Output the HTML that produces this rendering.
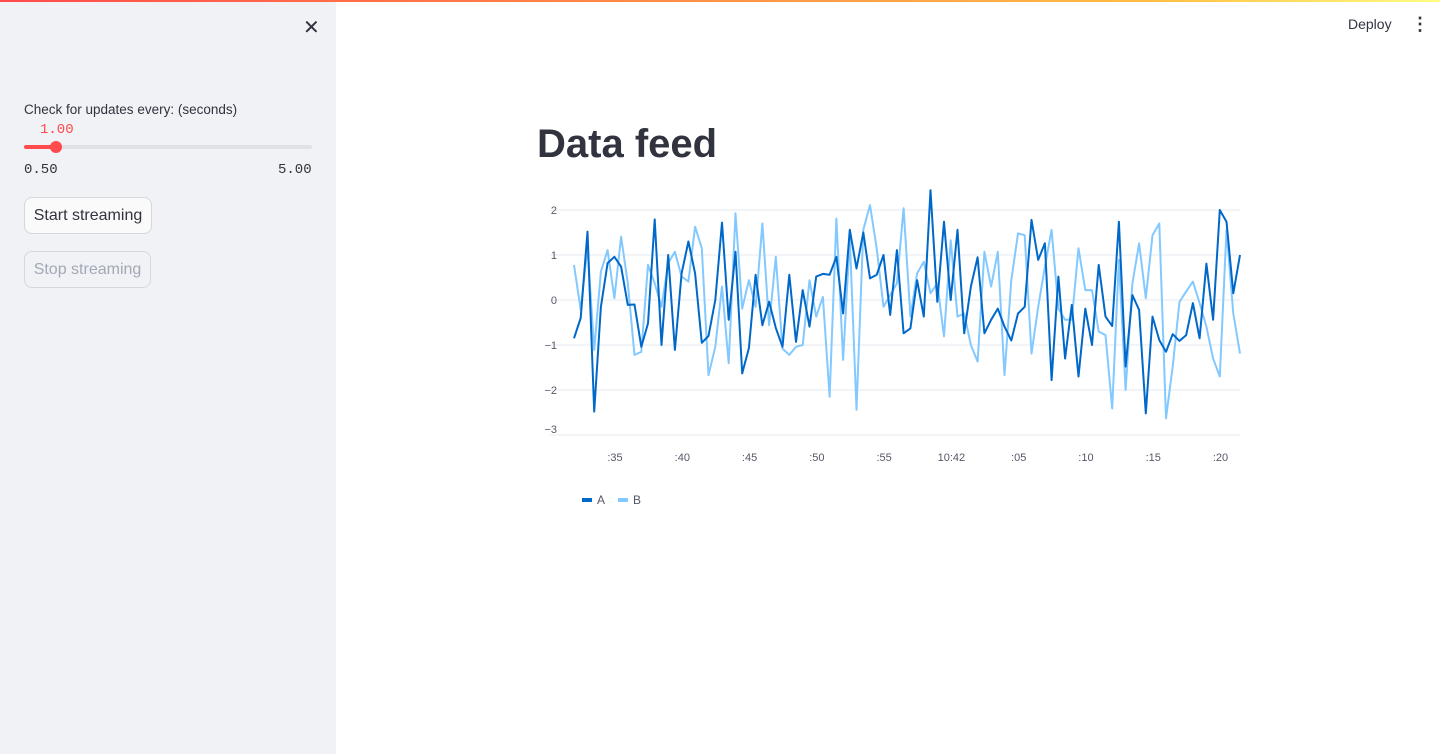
<!DOCTYPE html>
<html><head><meta charset="utf-8"><style>
body{margin:0;width:1440px;height:754px;overflow:hidden;font-family:"Liberation Sans",sans-serif;background:#fff;position:relative;color:#31333f}
.topbar{position:absolute;left:0;top:0;width:1440px;height:2px;background:linear-gradient(90deg,#ff4b4b,#ffbd45 80%,#fffd80)}
.side{position:absolute;left:0;top:2px;width:336px;height:752px;background:#f0f2f6}
.abs{position:absolute}
.btn{position:absolute;left:24px;width:128px;height:37px;border:1px solid #d5d7dc;border-radius:8px;background:#fafafb;font-size:16px;line-height:36px;text-align:center;box-sizing:border-box}
.mono{font-family:"Liberation Mono",monospace}
</style></head><body>
<div class="topbar"></div>
<div class="side">
 <div class="abs" style="left:303px;top:13px;font-size:20px;color:#31333f">✕</div>
 <div class="abs" style="left:24px;top:100px;font-size:13.5px">Check for updates every: (seconds)</div>
 <div class="abs mono" style="left:40px;top:120px;font-size:14px;color:#ff4b4b">1.00</div>
 <div class="abs" style="left:24px;top:143px;width:288px;height:4px;background:#dfe1e7;border-radius:2px"></div>
 <div class="abs" style="left:24px;top:143px;width:33px;height:4px;background:#ff4b4b;border-radius:2px"></div>
 <div class="abs" style="left:50px;top:139px;width:12px;height:12px;background:#ff4b4b;border-radius:50%"></div>
 <div class="abs mono" style="left:24px;top:160px;font-size:14px">0.50</div>
 <div class="abs mono" style="left:278px;top:160px;font-size:14px">5.00</div>
 <div class="btn" style="top:195px">Start streaming</div>
 <div class="btn" style="top:249px;color:#a3a8b4;background:#f0f2f6;width:127px">Stop streaming</div>
</div>
<div class="abs" style="left:1348px;top:16px;font-size:14px">Deploy</div>
<div class="abs" style="left:1411px;top:14px;font-size:18px;font-weight:bold">⋮</div>
<div class="abs" style="left:537px;top:122px;font-size:40px;font-weight:bold;color:#31333f">Data feed</div>
<svg class="abs" style="left:0;top:0" width="1440" height="754" id="chart"></svg>
<script>
const seriesA=[-0.85,-0.4,1.52,-2.48,-0.15,0.82,0.96,0.74,-0.11,-0.1,-1.04,-0.52,1.79,-1.0,1.0,-1.11,0.59,1.3,0.59,-0.95,-0.8,0.0,1.72,-0.44,1.07,-1.63,-1.07,0.56,-0.56,-0.04,-0.62,-1.04,0.56,-0.93,0.22,-0.59,0.52,0.58,0.56,0.96,-0.3,1.56,0.7,1.5,0.48,0.56,1.0,-0.33,1.11,-0.74,-0.63,0.44,-0.37,2.44,-0.04,1.74,0.0,1.56,-0.74,0.3,0.95,-0.74,-0.44,-0.19,-0.59,-0.9,-0.3,-0.15,1.78,0.89,1.26,-1.78,0.52,-1.3,-0.11,-1.7,-0.19,-1.0,0.78,-0.37,-0.58,1.74,-1.48,0.11,-0.22,-2.52,-0.37,-0.89,-1.15,-0.76,-0.91,-0.78,-0.07,-0.85,0.81,-0.44,2.0,1.74,0.15,1.0];
const seriesB=[0.78,-0.22,1.18,-1.11,0.63,1.11,0.04,1.41,0.37,-1.22,-1.15,0.78,0.37,-0.15,0.82,1.07,0.52,0.41,1.63,1.15,-1.67,-1.04,0.3,-1.41,1.93,-0.19,0.44,-0.15,1.7,-0.56,0.96,-1.08,-1.22,-1.04,-1.0,0.44,-0.37,0.07,-2.15,1.81,-1.33,1.37,-2.44,1.56,2.11,1.15,-0.15,0.11,0.37,2.04,-0.37,0.59,0.85,0.15,0.37,-0.81,1.33,-0.37,-0.3,-1.0,-1.37,1.07,0.3,1.07,-1.67,0.44,1.48,1.44,-1.19,-0.15,0.74,1.56,-0.19,-0.44,-0.44,1.15,0.22,0.22,-0.7,-0.78,-2.41,0.89,-2.0,0.37,1.26,0.04,1.44,1.7,-2.63,-1.48,-0.04,0.19,0.41,-0.07,-0.59,-1.3,-1.7,1.56,-0.3,-1.19];
const yTicks=[2,1,0,-1,-2,-3];
const xTickSeconds=[35,40,45,50,55,60,65,70,75,80];
const xTickLabels=[":35",":40",":45",":50",":55","10:42",":05",":10",":15",":20"];
const startSecond=31.95, stepSecond=0.5;
const svg=document.getElementById('chart');const NS='http://www.w3.org/2000/svg';
const X0=574,X1=1240;
const pxPerSec=(X1-X0)/((seriesA.length-1)*stepSecond);
const xs=t=>X0+(t-startSecond)*pxPerSec;
const y=v=>300-v*45;
function mk(tag,attrs){const e=document.createElementNS(NS,tag);for(const k in attrs)e.setAttribute(k,attrs[k]);svg.appendChild(e);return e;}
yTicks.forEach(v=>{
 const g=mk('line',{x1:X0-24,x2:X1,y1:y(v),y2:y(v),stroke:'#e6e9ef','stroke-width':1});
 
 
 const t=mk('text',{x:557,y:(v===-3?y(v)-2:y(v)+4),'font-size':11,fill:'#555867','text-anchor':'end','font-family':'Liberation Sans, sans-serif'});
 t.textContent=(v<0?'\u2212'+(-v):v);
 
 
});
xTickSeconds.forEach((s,i)=>{
 const t=mk('text',{x:xs(s),y:461,'font-size':11,fill:'#555867','text-anchor':'middle','font-family':'Liberation Sans, sans-serif'});
 t.textContent=xTickLabels[i];
 
 
});
function line(data,color,name){
 const d=data.map((v,i)=>(i?'L':'M')+xs(startSecond+i*stepSecond).toFixed(1)+','+y(v).toFixed(1)).join('');
 const p=mk('path',{d:d,fill:'none',stroke:color,'stroke-width':2,'stroke-linejoin':'round'});
 
 
}
line(seriesB,'#83c9ff','series-b-line');
line(seriesA,'#0068c9','series-a-line');
[['A','#0068c9',582],['B','#83c9ff',618]].forEach(([n,c,x])=>{
 const r=mk('rect',{x:x,y:498,width:10,height:4,fill:c});
 
 
 const t=mk('text',{x:x+15,y:504,'font-size':12,fill:'#555867','font-family':'Liberation Sans, sans-serif'});
 t.textContent=n;
 
 
});
</script>
</body></html>
